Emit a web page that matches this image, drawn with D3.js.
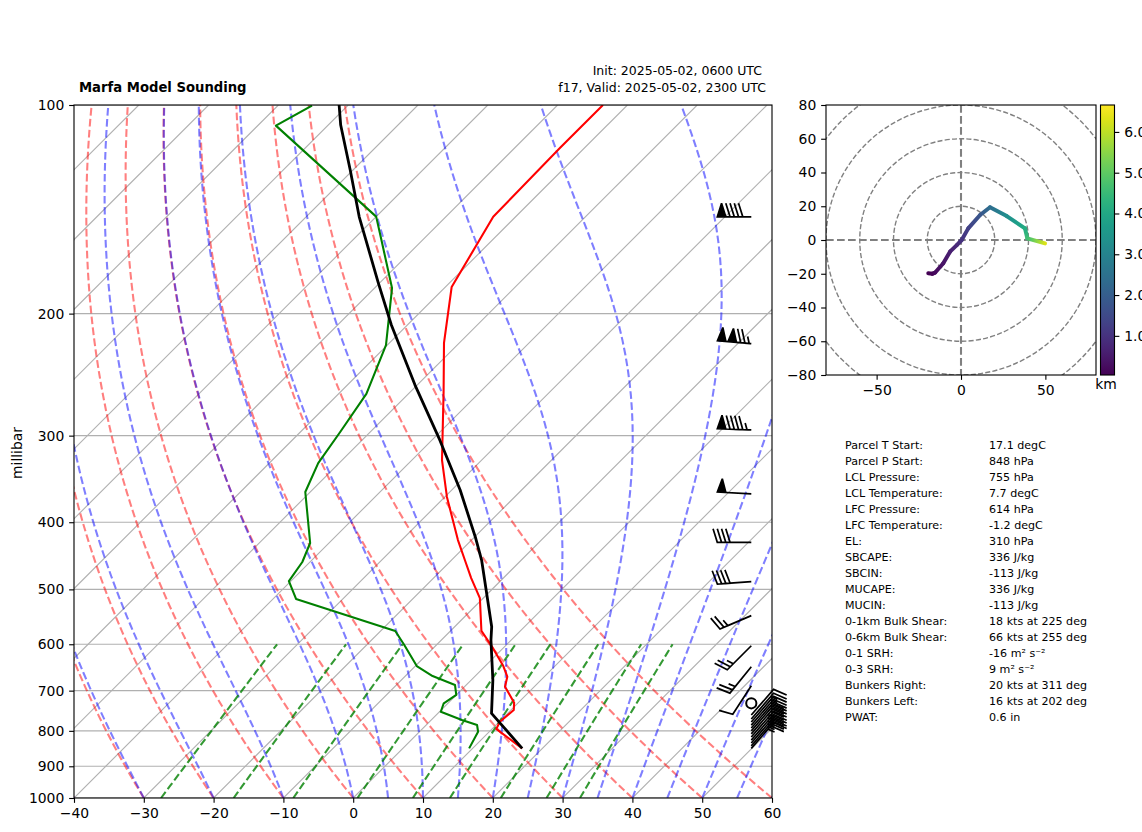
<!DOCTYPE html>
<html><head><meta charset="utf-8">
<script src="https://cdn.jsdelivr.net/npm/d3@7"></script>
<style>
html,body{margin:0;padding:0;background:#fff}
text{font-family:"DejaVu Sans",sans-serif;fill:#000}
</style></head><body>
<svg id="c" width="1142" height="832"></svg>
<script>
// ---- sounding data (hPa, degC) ----
const tempP = [100,115.3,145,183.1,220.4,259.6,325.3,367.8,424.4,453.5,481.6,514.6,573.6,607.4,645,668.3,690.8,728.5,746.5,776.2,795,848];
const tempT = [-63.5,-63.5,-63.2,-59.1,-52.2,-45.2,-35.7,-29.7,-21.95,-18.1,-14.6,-10.5,-5.6,-1.5,2.6,4.7,5.8,9.4,10.4,10.1,10.6,17.1];
const dewpP = [100.2,107.1,144.9,156.6,183.7,222,261.2,296.4,328.6,361.8,428.6,456.5,486.3,516.2,574.1,601.5,645,666.8,687,710,730,750.9,771.7,784.8,802.4,848];
const dewpT = [-105.1,-107.4,-80,-75.9,-67.5,-60.2,-56,-54.3,-53,-50.7,-42.7,-41.1,-40.3,-36.7,-17.9,-14.6,-9.8,-6.1,-1.6,0,-0.6,0.2,4.4,7.3,8.4,9.5];
const parcelP = [100,106.9,124.1,145,180.6,207.7,253.6,304.3,359.4,420.1,453.5,518,566,591.6,675.6,755,848];
const parcelT = [-101.3,-98.2,-90.4,-82.4,-70.2,-62.3,-50.3,-38.9,-28.8,-19.9,-15.7,-9.1,-4.7,-2.9,3.1,7.7,17.1];
// ---- wind barbs ----
const barbP = [145,221,294.4,364,427.6,487.4,545.6,603,646.5,688.6,730,759,769,777,785,792.6,800,808,816.6,825,833,841,848];
const barbSpd = [90,125,95,50,40,40,25,25,25,10,0,10,15,15,20,20,20,25,25,25,25,25,25];
const barbDir = [270,275,272,273,270,266,247,225,219,213,0,41,41,41,41,41,41,41,41,41,41,41,41];
// ---- hodograph (kt, kt, km) ----
const hodoU = [-19.4,-17,-15.4,-10.5,-6.5,-2.5,0.4,4.3,11.3,17.2,27.1,37.9,39.3,49.8];
const hodoV = [-19.7,-20,-19.4,-13.8,-6.9,-3,0,6.9,14.8,19.4,14.2,6.9,1,-2];
const hodoH = [0.04,0.1,0.2,0.4,0.6,0.8,1.0,1.3,1.8,2.4,3.3,4.1,4.6,6.3];
// ---- axis ticks and background line start values ----
const tempTicks = [-40,-30,-20,-10,0,10,20,30,40,50,60];
const presTicks = [100,200,300,400,500,600,700,800,900,1000];
const isoTemps = d3.range(-140,61,10);
const dryStarts = [-40,-30,-20,-10,0,10,20,30,40,50,60];
const moistStarts = [-40,-30,-20,-10,0,5,10,15,20,25,30,35,40,45,50,55,60];
const mixRatios = [0.0004,0.001,0.002,0.004,0.007,0.01,0.016,0.024,0.032];
const hodoXTicks = [-50,0,50];
const hodoYTicks = [-80,-60,-40,-20,0,20,40,60,80];
const hodoRings = [20,40,60,80,100,120];
const cbarTicks = [1,2,3,4,5,6];
// ---- table ----
const statLabels = ["Parcel T Start:","Parcel P Start:","LCL Pressure:","LCL Temperature:","LFC Pressure:","LFC Temperature:","EL:","SBCAPE:","SBCIN:","MUCAPE:","MUCIN:","0-1km Bulk Shear:","0-6km Bulk Shear:","0-1 SRH:","0-3 SRH:","Bunkers Right:","Bunkers Left:","PWAT:"];
const statValues = ["17.1 degC","848 hPa","755 hPa","7.7 degC","614 hPa","-1.2 degC","310 hPa","336 J/kg","-113 J/kg","336 J/kg","-113 J/kg","18 kts at 225 deg","66 kts at 255 deg","-16 m² s⁻²","9 m² s⁻²","20 kts at 311 deg","16 kts at 202 deg","0.6 in"];

const svg = d3.select("#c");
const L=74,R=772,T=105,B=798;
const xT = d3.scaleLinear().domain([-40,60]).range([L,R]);
const yP = d3.scaleLog().domain([1000,100]).range([B,T]);
const sx = (t,p)=> xT(t)+(B-yP(p));
const skewLine = d3.line().x(d=>sx(d[0],d[1])).y(d=>yP(d[1]));
const tick = 4.86, sw=1.11, tfs="13.9px";

const defs = svg.append("defs");
defs.append("clipPath").attr("id","skewClip").append("rect").attr("x",L).attr("y",T).attr("width",R-L).attr("height",B-T);

const plot = svg.append("g");
const clipG = plot.append("g").attr("clip-path","url(#skewClip)");
// grid
presTicks.forEach(p=>clipG.append("line").attr("x1",L).attr("x2",R).attr("y1",yP(p)).attr("y2",yP(p)).attr("stroke","#b0b0b0").attr("stroke-width",1.11));
isoTemps.forEach(t=>clipG.append("path").attr("d",skewLine([[t,1000],[t,100]])).attr("fill","none").attr("stroke","#b0b0b0").attr("stroke-width",1.11));

// thermodynamic reference curves
const logP = d3.range(0,51).map(i=>1000*Math.pow(0.1,i/50));
const K=273.15,Rd=287.05,cp=1005.7,Lv=2.501e6,eps=0.622;
const es = tc=>6.112*Math.exp(17.67*tc/(tc+243.5));
function dTdlnp(tk,p){const rs=eps*es(tk-K)/(p-es(tk-K));
  return (Rd*tk+Lv*rs)/(cp+Lv*Lv*rs*eps/(Rd*tk*tk));}
function moist(t0){let t=t0+K,out=[];
  logP.forEach((p,i)=>{out.push([t-K,p]);
    if(i<logP.length-1){const h=Math.log(logP[i+1]/p),n=10,dh=h/n;let q=p;
      for(let j=0;j<n;j++){const a=dTdlnp(t,q),b=dTdlnp(t+a*dh/2,q*Math.exp(dh/2)),c=dTdlnp(t+b*dh/2,q*Math.exp(dh/2)),e=dTdlnp(t+c*dh,q*Math.exp(dh));
        t+=dh*(a+2*b+2*c+e)/6;q*=Math.exp(dh);}}});
  return out;}
const dash="7.7,3.3";
const bg = (d,c,o)=>clipG.append("path").attr("d",d).attr("fill","none").attr("stroke",c).attr("stroke-opacity",o).attr("stroke-width",2.08).attr("stroke-dasharray",dash);
dryStarts.forEach(t0=>bg(skewLine(logP.map(p=>[(t0+K)*Math.pow(p/1000,Rd/cp)-K,p])),"#f00",.5));
moistStarts.forEach(t0=>bg(skewLine(moist(t0)),"#00f",.5));
const mixP = d3.range(0,21).map(i=>1000-20*i);
mixRatios.forEach(w=>bg(skewLine(mixP.map(p=>{const e=p*w/(eps+w),l=Math.log(e/6.112);return [243.5*l/(17.67-l),p];})),"#008000",.8));

// profiles
const prof=(P,V,c,w)=>clipG.append("path").attr("d",skewLine(V.map((t,i)=>[t,P[i]]))).attr("fill","none").attr("stroke",c).attr("stroke-width",w).attr("stroke-linejoin","round");
prof(tempP,tempT,"#f00",2.08);
prof(dewpP,dewpT,"#008000",2.08);
prof(parcelP,parcelT,"#000",2.8);

// barbs
const bL=34,bx=751.3,fh=.4*bL,fw=.25*bL,sp=.125*bL;
const bG=svg.append("g");
barbP.forEach((p,i)=>{
  const s=barbSpd[i],dr=barbDir[i]*Math.PI/180,y0=yP(p);
  if(s<2.5){bG.append("circle").attr("cx",bx).attr("cy",y0).attr("r",.15*bL).attr("fill","none").attr("stroke","#000").attr("stroke-width",2);return;}
  const u=-Math.sin(dr),v=-Math.cos(dr),a=Math.atan2(v,u)+Math.PI/2;
  let m=Math.round(s/5)*5;
  const nf=Math.floor(m/50);m-=nf*50;const nb=Math.floor(m/10);m-=nb*10;const nh=m>=5;
  let pts=[[0,0]],off=bL;
  for(let k=0;k<nf;k++){if(off!==bL)off+=sp/2;
    pts.push([0,off],[fh,off-fw/2],[0,off-fw]);off-=fw+sp;}
  for(let k=0;k<nb;k++){pts.push([0,off],[fh,off+fw/2],[0,off]);off-=sp;}
  if(nh){if(off===bL)off-=1.5*sp;pts.push([0,off],[fh/2,off+fw/4],[0,off]);}
  const scr=pts.map(q=>[bx+q[0]*Math.cos(a)-q[1]*Math.sin(a),y0-(q[0]*Math.sin(a)+q[1]*Math.cos(a))]);
  bG.append("path").attr("d","M"+scr.map(q=>q.join(",")).join("L")+"Z").attr("fill","#000").attr("stroke","#000").attr("stroke-width",1.7).attr("stroke-linejoin","miter").attr("stroke-miterlimit",3);
});

function styleAxis(g){g.selectAll("path.domain").remove();
  g.selectAll("line").attr("stroke","#000").attr("stroke-width",sw);
  g.selectAll("text").style("font-size",tfs).attr("fill","#000");}
function box(x,y,w,h){svg.append("rect").attr("x",x).attr("y",y).attr("width",w).attr("height",h).attr("fill","none").attr("stroke","#000").attr("stroke-width",sw);}

svg.append("g").attr("transform",`translate(0,${B})`).call(d3.axisBottom(xT).tickValues(tempTicks).tickSize(tick).tickPadding(4.9).tickFormat(d3.format("d"))).call(styleAxis);
svg.append("g").attr("transform",`translate(${L},0)`).call(d3.axisLeft(yP).tickValues(presTicks).tickSize(tick).tickPadding(4.9).tickFormat(d3.format("d"))).call(styleAxis);
box(L,T,R-L,B-T);

svg.append("text").attr("transform","translate(21.5,453) rotate(-90)").attr("text-anchor","middle").style("font-size",tfs).text("millibar");
svg.append("text").attr("x",79).attr("y",92).style("font-size","13.2px").style("font-weight","bold").text("Marfa Model Sounding");
svg.append("text").attr("x",762).attr("y",75).attr("text-anchor","end").style("font-size","12.5px").text("Init: 2025-05-02, 0600 UTC");
svg.append("text").attr("x",766).attr("y",92).attr("text-anchor","end").style("font-size","12.5px").text("f17, Valid: 2025-05-02, 2300 UTC");

// hodograph
const HL=826,HR=1096,HT=105,HB=375;
const hx=d3.scaleLinear().domain([-80,80]).range([HL,HR]);
const hy=d3.scaleLinear().domain([-80,80]).range([HB,HT]);
defs.append("clipPath").attr("id","hodoClip").append("rect").attr("x",HL).attr("y",HT).attr("width",HR-HL).attr("height",HB-HT);
const hG=svg.append("g").attr("clip-path","url(#hodoClip)");
hodoRings.forEach(r=>hG.append("circle").attr("cx",hx(0)).attr("cy",hy(0)).attr("r",hx(r)-hx(0)).attr("fill","none").attr("stroke","#808080").attr("stroke-width",1.39).attr("stroke-dasharray","5.1,2.2"));
hG.append("line").attr("x1",HL).attr("x2",HR).attr("y1",hy(0)).attr("y2",hy(0)).attr("stroke","#808080").attr("stroke-width",2.08).attr("stroke-dasharray",dash);
hG.append("line").attr("y1",HT).attr("y2",HB).attr("x1",hx(0)).attr("x2",hx(0)).attr("stroke","#808080").attr("stroke-width",2.08).attr("stroke-dasharray",dash);
const cH=d3.scaleLinear().domain([0.04,6.66]).range([0,1]);
const vir=h=>d3.interpolateViridis(cH(h));
hodoU.slice(1).forEach((_,i)=>{
  const x1=hx(hodoU[i]),y1=hy(hodoV[i]),x2=hx(hodoU[i+1]),y2=hy(hodoV[i+1]);
  const id="hg"+i;
  const g=defs.append("linearGradient").attr("id",id).attr("gradientUnits","userSpaceOnUse").attr("x1",x1).attr("y1",y1).attr("x2",x2+0.01).attr("y2",y2+0.01);
  d3.range(0,1.01,.25).forEach(f=>g.append("stop").attr("offset",f).attr("stop-color",vir(hodoH[i]+f*(hodoH[i+1]-hodoH[i]))));
  hG.append("line").attr("x1",x1).attr("y1",y1).attr("x2",x2+0.01).attr("y2",y2+0.01).attr("stroke",`url(#${id})`).attr("stroke-width",4).attr("stroke-linecap","round");
});
svg.append("g").attr("transform",`translate(0,${HB})`).call(d3.axisBottom(hx).tickValues(hodoXTicks).tickSize(tick).tickPadding(4.9)).call(styleAxis);
svg.append("g").attr("transform",`translate(${HL},0)`).call(d3.axisLeft(hy).tickValues(hodoYTicks).tickSize(tick).tickPadding(4.9)).call(styleAxis);
box(HL,HT,HR-HL,HB-HT);

// colorbar
const CL=1100.5,CW=14,cy=d3.scaleLinear().domain([0.04,6.66]).range([HB,HT]);
const cg=defs.append("linearGradient").attr("id","cb").attr("x1",0).attr("x2",0).attr("y1",1).attr("y2",0);
d3.range(0,1.001,.05).forEach(f=>cg.append("stop").attr("offset",f).attr("stop-color",d3.interpolateViridis(f)));
svg.append("rect").attr("x",CL).attr("y",HT).attr("width",CW).attr("height",HB-HT).attr("fill","url(#cb)");
svg.append("g").attr("transform",`translate(${CL+CW},0)`).call(d3.axisRight(cy).tickValues(cbarTicks).tickSize(tick).tickPadding(4.9)).call(styleAxis);
box(CL,HT,CW,HB-HT);
svg.append("text").attr("x",1106).attr("y",389).attr("text-anchor","middle").style("font-size",tfs).text("km");

// table
statLabels.forEach((s,i)=>{const y=445+i*16.03;
  svg.append("text").attr("x",845).attr("y",y+3.8).style("font-size","11.1px").text(s);
  svg.append("text").attr("x",989).attr("y",y+3.8).style("font-size","11.1px").text(statValues[i]);
});
</script></body></html>
